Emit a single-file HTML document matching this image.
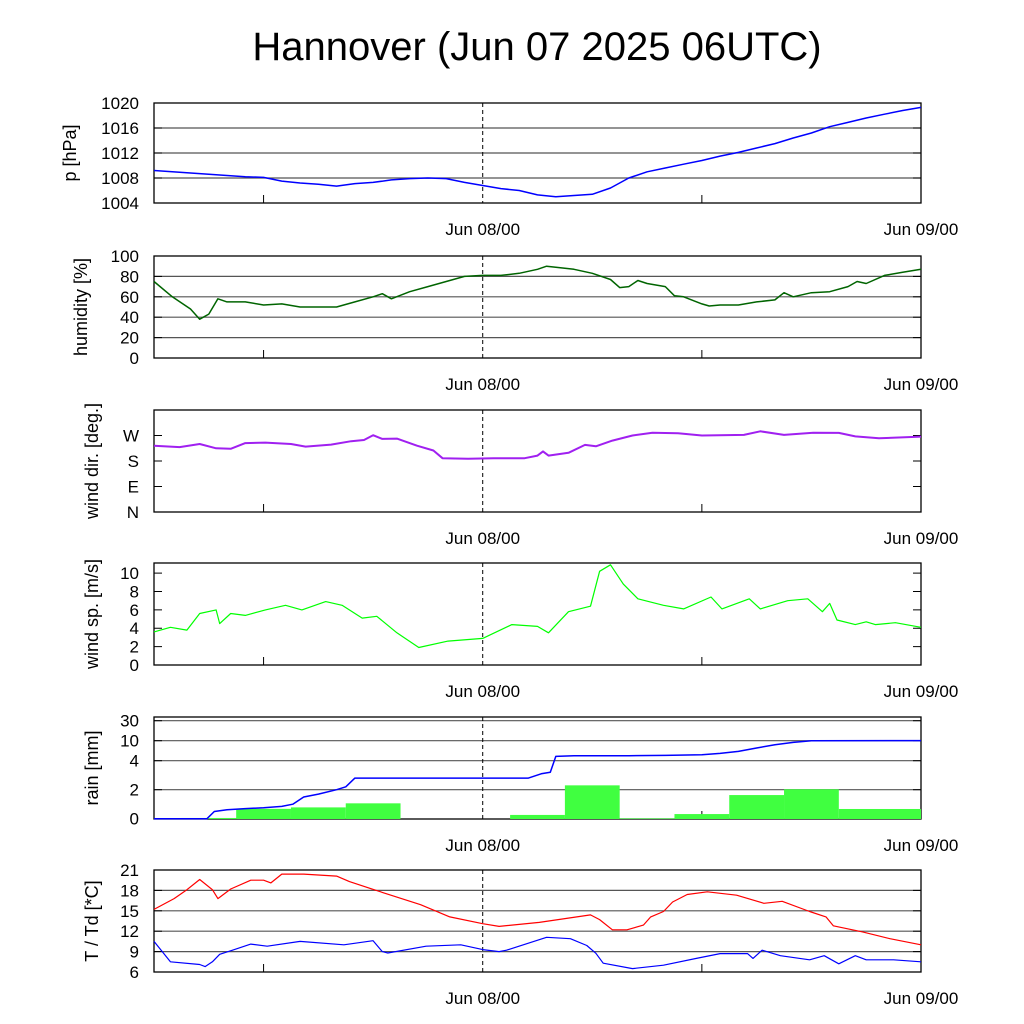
<!DOCTYPE html>
<html><head><meta charset="utf-8"><style>
html,body{margin:0;padding:0;background:#fff;}
svg{display:block;font-family:"Liberation Sans",sans-serif;}
</style></head><body>
<svg id="chart" width="1024" height="1024" viewBox="0 0 1024 1024" xmlns="http://www.w3.org/2000/svg">
<rect width="1024" height="1024" fill="#fff"/>
<text x="537" y="60" font-size="40" text-anchor="middle">Hannover (Jun 07 2025 06UTC)</text>
<g id="root"></g>
</svg>
<script>
// time in hours since Jun 07 06UTC
const xTickLabels = ["Jun 08/00", "Jun 09/00"];
const xTickHours = [18, 42];
const pH = [0,1,2,3,4,5,6,7,8,9,10,11,12,13,14,15,16,17,18,19,20,21,22,23,24,25,26,27,28,29,30,31,32,33,34,35,36,37,38,39,40,41,42];
const pV = [1009.2,1009,1008.8,1008.6,1008.4,1008.2,1008.1,1007.5,1007.2,1007,1006.7,1007.1,1007.3,1007.7,1007.9,1008,1007.9,1007.3,1006.8,1006.3,1006,1005.3,1005,1005.2,1005.4,1006.4,1008,1009,1009.6,1010.2,1010.8,1011.5,1012.1,1012.8,1013.5,1014.4,1015.2,1016.2,1016.9,1017.6,1018.2,1018.8,1019.3];
const humH = [0,1,2,2.5,3,3.5,4,5,6,7,8,9,10,11,12,12.5,13,14,15,16,17,18,19,20,21,21.5,22,23,24,25,25.5,26,26.5,27,28,28.5,29,30,30.4,31,32,33,34,34.5,35,36,37,38,38.5,39,40,41,42];
const humV = [75,60,48,38,43,58,55,55,52,53,50,50,50,55,60,63,58,65,70,75,80,81,81,83,87,90,89,87,83,77,69,70,76,73,70,61,60,53,51,52,52,55,57,64,60,64,65,70,75,73,81,84,87];
const wdH = [0,1.4,2.5,3.4,4.2,5.0,6.1,7.5,8.3,9.7,10.8,11.5,12.0,12.5,13.3,14.4,15.3,15.8,17.2,18.6,20.3,21.0,21.3,21.6,22.7,23.6,24.2,25.1,26.2,27.3,28.7,30.0,32.3,33.2,34.5,36.1,37.5,38.4,39.7,42];
const wdV = [234,229,240,225,223,243,245,240,231,238,250,254,271,258,259,234,217,190,188,190,190,199,214,199,209,237,232,252,270,280,278,270,272,285,272,280,279,267,260,266];
const wsH = [0,0.9,1.8,2.5,3.4,3.6,4.2,5.0,6.1,7.2,8.1,9.4,10.3,11.4,12.2,13.3,14.5,16.1,18.0,19.6,21.0,21.6,22.7,23.9,24.4,25.0,25.7,26.5,27.9,29.0,30.5,31.1,32.6,33.2,34.7,35.8,36.6,37.0,37.4,38.4,39.0,39.5,40.6,42];
const wsV = [3.6,4.1,3.8,5.6,6.0,4.5,5.6,5.4,6.0,6.5,6.0,6.9,6.5,5.1,5.3,3.5,1.9,2.6,2.9,4.4,4.2,3.5,5.8,6.4,10.2,10.9,8.8,7.2,6.5,6.1,7.4,6.1,7.2,6.1,7.0,7.2,5.8,6.7,4.9,4.4,4.7,4.4,4.6,4.1];
const rainBinStart = [1.5,4.5,7.5,10.5,19.5,22.5,25.5,28.5,31.5,34.5,37.5];
const rainBinEnd = [4.5,7.5,10.5,13.5,22.5,25.5,28.5,31.5,34.5,37.5,42];
const rainBinV = [0.05,0.68,0.78,1.06,0.26,2.3,0.02,0.32,1.63,2.03,0.67];
const rainCumH = [0,2.9,3.3,4,5,6,7,7.6,8.2,9,10,10.5,11,18,20.5,21.2,21.7,22,23,26,28,30,31,32,33,34,35,36,42];
const rainCumV = [0,0,0.5,0.62,0.7,0.75,0.85,1.0,1.5,1.7,2.0,2.2,2.8,2.8,2.8,3.1,3.2,5.3,5.5,5.5,5.6,5.8,6.2,6.8,7.8,8.8,9.5,10.0,10.1];
const tH = [0,1.1,1.8,2.5,3.2,3.5,4.2,5.3,6,6.4,7.0,8.2,10.0,10.7,12.5,14.6,16.2,18,18.9,21.1,23.9,24.4,25.1,25.9,26.8,27.2,27.9,28.4,29.2,30.3,31.9,33.4,34.4,35.9,36.8,37.2,38.8,40.3,42];
const tV = [15.2,16.8,18.1,19.6,18.1,16.8,18.2,19.5,19.5,19.1,20.4,20.4,20.1,19.3,17.7,15.9,14.1,13.1,12.7,13.3,14.4,13.7,12.2,12.2,12.9,14.1,14.9,16.3,17.4,17.8,17.3,16.1,16.4,14.9,14.1,12.8,11.9,10.9,10.0];
const tdH = [0,0.9,2.5,2.8,3.2,3.6,4.3,5.3,6.2,8,10.4,12.0,12.5,12.8,14.9,16.8,18,18.9,19.3,21.5,22.8,23.7,24.2,24.6,26.2,27.9,29.7,31.0,32.5,32.8,33.3,34.3,35.9,36.7,37.5,38.4,39.0,40.5,42];
const tdV = [10.5,7.5,7.1,6.8,7.5,8.6,9.2,10.1,9.8,10.5,10.0,10.6,9.0,8.8,9.8,10.0,9.3,9.0,9.2,11.1,10.9,9.9,8.75,7.3,6.5,7.0,8.0,8.7,8.7,8.0,9.2,8.4,7.8,8.4,7.2,8.4,7.8,7.8,7.5];
const pTicks = [1004,1008,1012,1016,1020];
const humTicks = [0,20,40,60,80,100];
const wdTicks = [0,90,180,270];
const wdTickLabels = ["N","E","S","W"];
const wsTicks = [0,2,4,6,8,10];
const rainTicks = [0,2,4,10,30];
const tTicks = [6,9,12,15,18,21];

const NS="http://www.w3.org/2000/svg";
const root=document.getElementById('root');
const X0=154,X1=921,HMAX=42;
const xs=h=>X0+(h/HMAX)*(X1-X0);
function el(tag,attrs,parent){const e=document.createElementNS(NS,tag);for(const k in attrs)e.setAttribute(k,attrs[k]);(parent||root).appendChild(e);return e;}

function panel(name,top,bot,ymin,ymax,ticks,labels,grid,ylabel,labelX,scaleFn){
  const g=el('g',{});
  
  
  const ys=scaleFn?scaleFn:(v=>bot-(v-ymin)/(ymax-ymin)*(bot-top));
  if(grid){ticks.forEach(t=>{const y=ys(t);if(y>top+1&&y<bot-1){const l=el('line',{x1:X0,x2:X1,y1:y,y2:y,stroke:'#555','stroke-width':1.2},g);}});}
  ticks.forEach((t,i)=>{const y=ys(t);
    el('line',{x1:X0,x2:X0+8,y1:y,y2:y,stroke:'#000'},g);el('line',{x1:X1-8,x2:X1,y1:y,y2:y,stroke:'#000'},g);
    const tx=el('text',{x:139,y:y+6,'font-size':17,'text-anchor':'end'},g);tx.textContent=labels?labels[i]:String(t);
    });
  // x ticks
  [6,18,30].forEach(h=>{const x=xs(h);el('line',{x1:x,x2:x,y1:bot,y2:bot-(h==18?0:8),stroke:'#000'},g);});
  const dl=el('line',{x1:xs(18),x2:xs(18),y1:top,y2:bot,stroke:'#000','stroke-dasharray':'4,3'},g);
  
  const fr=el('rect',{x:X0,y:top,width:X1-X0,height:bot-top,fill:'none',stroke:'#000','stroke-width':1.3},g);
  
  xTickHours.forEach((h,i)=>{const t=el('text',{x:xs(h),y:bot+32,'font-size':17,'text-anchor':'middle'},g);t.textContent=xTickLabels[i];
    });
  const yl=el('text',{x:labelX,y:(top+bot)/2,'font-size':18,'text-anchor':'middle',transform:`rotate(-90 ${labelX} ${(top+bot)/2})`},g);
  yl.textContent=ylabel;
  return {g,ys};
}
function line(p,H,V,color,w,name){
  const d=H.map((h,i)=>(i?'L':'M')+xs(h).toFixed(1)+','+p.ys(V[i]).toFixed(1)).join('');
  const l=el('path',{d,fill:'none',stroke:color,'stroke-width':w,'stroke-linejoin':'round'},p.g);
  
}
const pp=panel('pressure',103,203,1004,1020,pTicks,null,true,'p [hPa]',76);
line(pp,pH,pV,'#0000ff',1.5,'pressure-line');
const hp=panel('humidity',256,358,0,100,humTicks,null,true,'humidity [%]',87);
line(hp,humH,humV,'#006400',1.5,'humidity-line');
const dp=panel('wind-dir',410,512,0,360,wdTicks,wdTickLabels,false,'wind dir. [deg.]',98);
line(dp,wdH,wdV,'#a020f0',2,'wind-direction-line');
const sp=panel('wind-speed',563,665,0,11.1,wsTicks,null,false,'wind sp. [m/s]',98);
line(sp,wsH,wsV,'#00ff00',1.2,'wind-speed-line');
const rY=[818.7,789.7,760.7,740.7,720.7];
function rainScale(v){for(let i=0;i<rainTicks.length-1;i++){if(v<=rainTicks[i+1]){return rY[i]+(v-rainTicks[i])/(rainTicks[i+1]-rainTicks[i])*(rY[i+1]-rY[i]);}}return rY[rY.length-1];}
const rp=panel('rain',717,819,0,30,rainTicks,null,true,'rain [mm]',98,rainScale);
rainBinV.forEach((v,i)=>{const x0=xs(rainBinStart[i]),x1=xs(rainBinEnd[i]);const y=rp.ys(v);
  const b=el('rect',{x:x0,y:y,width:x1-x0,height:819-y,fill:'#40ff40'},rp.g);
  });
line(rp,rainCumH,rainCumV,'#0000ff',1.5,'cumulative-rain-line');
const tp=panel('temperature',870,972,6,21,tTicks,null,true,'T / Td [*C]',98);
line(tp,tH,tV,'#ff0000',1.2,'temperature-line');
line(tp,tdH,tdV,'#0000ff',1.2,'dewpoint-line');
</script>
</body></html>
